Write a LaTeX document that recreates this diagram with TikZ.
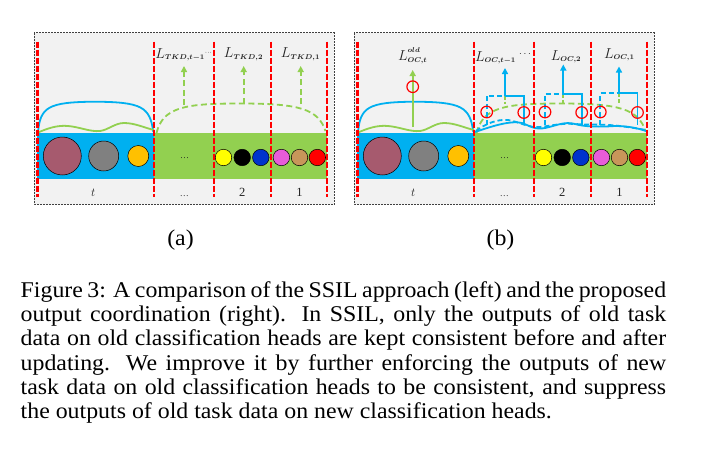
\documentclass[tikz,border=0pt]{standalone}
\usepackage{fontspec}
\usepackage{bm}
\setmainfont{Liberation Serif}
\newfontfamily\capfont[FakeStretch=1.06]{Liberation Serif}
\usetikzlibrary{arrows.meta}
\definecolor{bgC}{HTML}{F2F2F2}
\definecolor{blueC}{HTML}{00B0F0}
\definecolor{greenC}{HTML}{92D050}
\definecolor{maroonC}{HTML}{A65A6E}
\definecolor{grayC}{HTML}{808080}
\definecolor{orangeC}{HTML}{FFC000}
\definecolor{yellowC}{HTML}{FFFF00}
\definecolor{navyC}{HTML}{0033CC}
\definecolor{pinkC}{HTML}{E85CD8}
\definecolor{tanC}{HTML}{C8965A}
\definecolor{redC}{HTML}{FF0000}
\definecolor{textC}{HTML}{222222}
\newcommand\bigL{\mbox{\fontsize{13.5}{15}\selectfont$L$}}
\tikzset{
  framebox/.style={fill=bgC,draw=black!75,line width=0.7pt,dash pattern=on 2pt off 1pt},
  redline/.style={draw=redC,line width=2.4pt,dash pattern=on 6pt off 2pt},
  ball/.style={circle,draw=black,line width=0.5pt,inner sep=0pt},
  bigball/.style={ball,minimum size=38pt},
  midball/.style={ball,minimum size=30pt},
  smallball/.style={ball,minimum size=21pt},
  tinyball/.style={ball,minimum size=16.5pt},
  bluecurve/.style={draw=blueC,line width=1.8pt},
  bluedash/.style={draw=blueC,line width=1.8pt,dash pattern=on 5pt off 3pt},
  greencurve/.style={draw=greenC,line width=1.8pt},
  greendash/.style={draw=greenC,line width=1.8pt,dash pattern=on 6pt off 3.5pt},
  greenarrow/.style={greendash,-{Triangle[length=6pt,width=6pt]}},
  greensolidarrow/.style={greencurve,-{Triangle[length=6pt,width=6pt]}},
  bluearrow/.style={bluecurve,-{Triangle[length=6pt,width=6pt]}},
  redring/.style={circle,draw=redC,line width=1.2pt,minimum size=11.6pt,inner sep=0pt},
  losslabel/.style={anchor=base,inner sep=0pt,text=textC,font=\fontsize{10}{12}\selectfont},
  seglabel/.style={anchor=base,inner sep=0pt,text=textC,font=\fontsize{12.5}{14}\selectfont},
  capline/.style={anchor=base west,inner sep=0pt,font=\capfont\fontsize{22.5}{24}\selectfont}
}
\newcommand\panelcommon[1]{%
  \draw[framebox] (34,32.7) rectangle (334.3,204);
  \fill[blueC] (37,132.7) rectangle (154.2,179.3);
  \fill[greenC] (154.2,132.7) rectangle (327,179.3);
  \node[bigball,fill=maroonC] (#1-c1) at (62.3,156) {};
  \node[midball,fill=grayC] (#1-c2) at (103.7,156) {};
  \node[smallball,fill=orangeC] (#1-c3) at (138.3,156) {};
  \node[tinyball,fill=yellowC] (#1-c4) at (223.5,157.5) {};
  \node[tinyball,fill=black] (#1-c5) at (242.2,157.5) {};
  \node[tinyball,fill=navyC] (#1-c6) at (260.8,157.5) {};
  \node[tinyball,fill=pinkC] (#1-c7) at (281.4,157.5) {};
  \node[tinyball,fill=tanC] (#1-c8) at (299.5,157.5) {};
  \node[tinyball,fill=redC] (#1-c9) at (317.3,157.5) {};
  \node[seglabel] (#1-gdots) at (184.5,158) {\fontsize{9}{10}\selectfont\ldots};
  \node[seglabel] (#1-lt) at (93.3,196.5) {$t$};
  \node[seglabel] (#1-ldots) at (184.3,196.5) {\fontsize{9}{10}\selectfont\ldots};
  \node[seglabel] (#1-l2) at (242.3,196.5) {2};
  \node[seglabel] (#1-l1) at (299.5,196.5) {1};
  \draw[bluecurve] (38,133) .. controls (40,107) and (48,102) .. (95,101.7) .. controls (142,102) and (150,107) .. (153.3,132);
  \draw[greencurve] (37,133) .. controls (48,128) and (58,125) .. (68,126) .. controls (80,127) and (90,132) .. (100,131) .. controls (108,130) and (115,123) .. (124,123) .. controls (135,123) and (145,128) .. (154,130);
  \draw[greendash] (156.5,133) .. controls (163,107) and (185,103.5) .. (240,103.5) .. controls (300,103.5) and (318,109) .. (325.5,131);
}
\newcommand\panelred{%
  \foreach \xx in {37.3,154.2,214,271,327.2} {\draw[redline] (\xx,41.7) -- (\xx,196.7);}
}
\begin{document}
\begin{tikzpicture}[x=1pt,y=-1pt]
\useasboundingbox[fill=white] (0,0) rectangle (705,453);
% ---------- panel (a)
\begin{scope}
  \panelcommon{a}
  \coordinate (a-s1) at (184,105);
  \coordinate (a-e1) at (184,66);
  \coordinate (a-s2) at (243.7,103.5);
  \coordinate (a-e2) at (243.7,66);
  \coordinate (a-s3) at (300.7,104);
  \coordinate (a-e3) at (300.7,66);
  \draw[greenarrow] (a-s1) -- (a-e1);
  \draw[greenarrow] (a-s2) -- (a-e2);
  \draw[greenarrow] (a-s3) -- (a-e3);
  \node[losslabel] (a-L1) at (184,58.3) {$\bigL_{\bm{TKD,t-1}}{}^{\cdots}$};
  \node[losslabel] (a-L2) at (243.5,57.7) {$\bigL_{\bm{TKD,2}}$};
  \node[losslabel] (a-L3) at (300.5,57.7) {$\bigL_{\bm{TKD,1}}$};
  \panelred
\end{scope}
% ---------- panel (b)
\begin{scope}[xshift=320pt]
  \panelcommon{b}
  % blue waves in green part
  \draw[bluedash] (156,131) .. controls (165,124) and (177,119) .. (188,120) .. controls (200,122) and (208,128) .. (220,127) .. controls (230,126) and (240,123) .. (255,124) .. controls (270,125) and (285,124) .. (300,126) .. controls (315,128) and (320,129) .. (326,130);
  \draw[bluecurve] (155,132) .. controls (170,127) and (190,120) .. (202,123) .. controls (210,126) and (215,130) .. (225,128) .. controls (235,126) and (245,121) .. (255,124) .. controls (265,127) and (280,127) .. (295,126) .. controls (310,126) and (320,129) .. (326,131);
  % old head arrow
  \coordinate (b-s0) at (92.7,127);
  \coordinate (b-e0) at (92.7,70);
  \draw[greensolidarrow] (b-s0) -- (b-e0);
  \node[redring] (b-r0) at (92.7,86.7) {};
  \node[losslabel] (b-L0) at (92.7,60) {$\bigL^{\bm{old}}_{\bm{OC,t}}$};
  % brackets
  \foreach \n/\xl/\xr/\yt/\xc/\tip in {1/166.7/203.8/95.7/185/68, 2/225/261.7/93.8/243.3/64.5, 3/280.3/317.5/93.3/299/66.5} {
    \coordinate (b-tl\n) at (\xl,\yt);
    \coordinate (b-bl\n) at (\xl,125);
    \coordinate (b-tr\n) at (\xr,\yt);
    \coordinate (b-br\n) at (\xr,125);
    \coordinate (b-tc\n) at (\xc,\yt);
    \coordinate (b-tip\n) at (\xc,\tip);
    \coordinate (b-gc\n) at (\xc,103.5);
    \draw[greendash,dash pattern=on 4pt off 2pt] (b-tc\n) -- (b-gc\n);
    \draw[bluedash] (b-bl\n) -- (b-tl\n) -- (b-tc\n);
    \draw[bluecurve] (b-tc\n) -- (b-tr\n) -- (b-br\n);
    \draw[bluearrow] (b-tc\n) -- (b-tip\n);
    \node[redring] (b-rl\n) at (\xl,112) {};
    \node[redring] (b-rr\n) at (\xr,112.5) {};
  }
  \node[losslabel] (b-L1) at (175.5,61) {$\bigL_{\bm{OC,t-1}}$};
  \node[losslabel,anchor=center] (b-Ld) at (205,54) {$\cdots$};
  \node[losslabel] (b-L2) at (246,60) {$\bigL_{\bm{OC,2}}$};
  \node[losslabel] (b-L3) at (299.3,58.3) {$\bigL_{\bm{OC,1}}$};
  \panelred
\end{scope}
% ---------- sub-captions and caption
\node[anchor=base,inner sep=0pt,font=\capfont\fontsize{22.5}{24}\selectfont] (capa) at (180.5,245) {(a)};
\node[anchor=base,inner sep=0pt,font=\capfont\fontsize{22.5}{24}\selectfont] (capb) at (500.5,245) {(b)};
\node[capline] (cap1) at (20.5,297.5) {\makebox[645.5pt][s]{Figure 3: A comparison of the SSIL approach (left) and the proposed}};
\node[capline] (cap2) at (20.5,321.7) {\makebox[645.5pt][s]{output coordination (right). In SSIL, only the outputs of old task}};
\node[capline] (cap3) at (20.5,345.9) {\makebox[645.5pt][s]{data on old classification heads are kept consistent before and after}};
\node[capline] (cap4) at (20.5,370.1) {\makebox[645.5pt][s]{updating. We improve it by further enforcing the outputs of new}};
\node[capline] (cap5) at (20.5,394.3) {\makebox[645.5pt][s]{task data on old classification heads to be consistent, and suppress}};
\node[capline] (cap6) at (20.5,418.5) {the outputs of old task data on new classification heads.};
\end{tikzpicture}
\end{document}
